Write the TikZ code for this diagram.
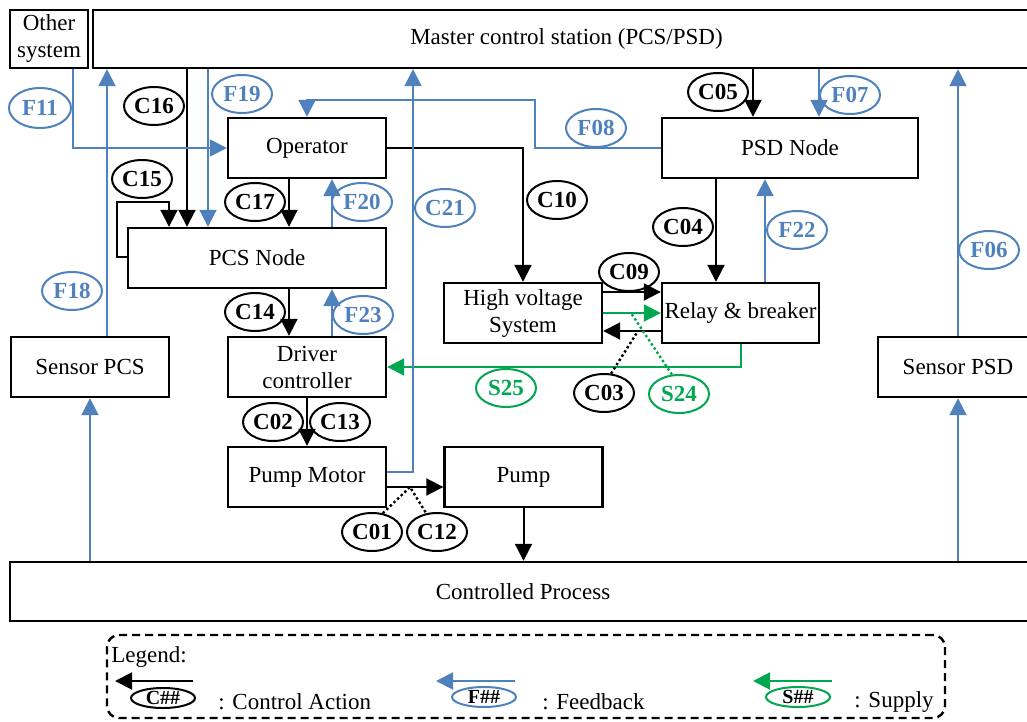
\documentclass[tikz,border=0pt]{standalone}
\usepackage{fontspec}
\setmainfont{Liberation Serif}
\usepackage{xcolor}
\usepackage{tikz}
\usetikzlibrary{arrows.meta,shapes.geometric}
\definecolor{fbblue}{RGB}{79,129,189}
\definecolor{spgreen}{RGB}{0,166,80}
\newcommand{\diafont}{\fontsize{11.5}{13.5}\selectfont}

\begin{document}
\begin{tikzpicture}[x=0.5pt, y=-0.5pt,
  box/.style={draw, line width=1.2pt, inner sep=1pt, font=\diafont, align=center,
              minimum width=79pt, minimum height=30pt},
  tag/.style={ellipse, draw, line width=1pt, inner sep=0pt, minimum width=30pt,
              minimum height=19pt, font=\diafont\bfseries},
  ftag/.style={tag, draw=fbblue, text=fbblue},
  stag/.style={tag, draw=spgreen, text=spgreen},
  ktag/.style={tag, minimum width=32pt, minimum height=10pt,
               font=\fontsize{10}{10}\selectfont\bfseries},
  ca/.style={draw, line width=1pt, -{Triangle[length=8.5pt, width=8.5pt]}},
  fa/.style={ca, color=fbblue},
  sa/.style={ca, color=spgreen},
  hint/.style={draw, line width=1.2pt, dash pattern=on 1.2pt off 1.3pt},
  txt/.style={font=\diafont, anchor=west, inner sep=0pt},
]
\clip (0,0) rectangle (1027,722);
% --- Top row ---
\node[box, minimum width=39pt, minimum height=29pt] (other) at (49,39) {Other\\system};
\node[box, minimum width=473.5pt, minimum height=29pt] (master) at (566.5,39) {Master control station (PCS/PSD)};
% --- Controllers ---
\node[box] (op) at (307,148) {Operator};
\node[box, minimum width=129pt] (pcs) at (257,258) {PCS Node};
\node[box, minimum width=128pt] (psd) at (790,148) {PSD Node};
\node[box] (drv) at (307,367) {Driver\\controller};
\node[box] (hv) at (523,313) {High voltage\\System};
\node[box, inner xsep=0pt, minimum width=78.5pt] (relay) at (740.5,313) {Relay \& breaker};
\node[box] (motor) at (307,477) {Pump Motor};
\node[box] (pump) at (523.5,477) {Pump};
% --- Sensors and process ---
\node[box] (spcs) at (90,367) {Sensor PCS};
\node[box, minimum width=80pt] (spsd) at (958,367) {Sensor PSD};
\node[box, minimum width=513pt, minimum height=29.5pt] (proc) at (523,591.5) {Controlled Process};
% --- Control actions ---
\draw[ca] (187,0 |- master.south) -- (187,0 |- pcs.north);
\draw[ca] (pcs.west |- 0,257) -| (117,202) -| (169,0 |- pcs.north);
\draw[ca] (289,0 |- op.south) -- (289,0 |- pcs.north);
\draw[ca] (289,0 |- pcs.south) -- (289,0 |- drv.north);
\draw[ca] (drv.south) -- (motor.north);
\draw[ca] (motor.east |- 0,487) -- (pump.west |- 0,487);
\draw[ca] (pump.south) -- (pump.south |- proc.north);
\draw[ca] (op.east) -| (hv.north);
\draw[ca] (753,0 |- master.south) -- (753,0 |- psd.north);
\draw[ca] (716,0 |- psd.south) -- (716,0 |- relay.north);
\draw[ca] (hv.east |- 0,292) -- (relay.west |- 0,292);
\draw[ca] (relay.west |- 0,331) -- (hv.east |- 0,331);
% --- Supply ---
\draw[sa] (hv.east |- 0,313) -- (relay.west |- 0,313);
\draw[sa] (741,0 |- relay.south) |- (drv.east);
% --- Feedback ---
\draw[fa] (73,0 |- other.south) |- (op.west);
\draw[fa] (107,0 |- spcs.north) -- (107,0 |- master.south);
\draw[fa] (208,0 |- master.south) -- (208,0 |- pcs.north);
\draw[fa] (332,0 |- pcs.north) -- (332,0 |- op.south);
\draw[fa] (332,0 |- drv.north) -- (332,0 |- pcs.south);
\draw[fa] (psd.west) -| (535,100) -| (op.north);
\draw[fa] (motor.east |- 0,472) -| (413,0 |- master.south);
\draw[fa] (819,0 |- master.south) -- (819,0 |- psd.north);
\draw[fa] (765,0 |- relay.north) -- (765,0 |- psd.south);
\draw[fa] (spsd.north) -- (spsd.north |- master.south);
\draw[fa] (spcs |- proc.north) -- (spcs.south);
\draw[fa] (spsd |- proc.north) -- (spsd.south);
% --- Labels ---
\node[tag] (c16) at (154,106) {C16};
\node[tag] (c15) at (142,179) {C15};
\node[tag] (c17) at (255,202) {C17};
\node[tag] (c14) at (255,312) {C14};
\node[tag] (c02) at (273,422) {C02};
\node[tag] (c13) at (340,422) {C13};
\node[tag] (c05) at (718,92) {C05};
\node[tag] (c10) at (557,200) {C10};
\node[tag] (c04) at (683,227) {C04};
\node[tag] (c09) at (629,272) {C09};
\node[tag] (c03) at (604,393) {C03};
\node[tag] (c01) at (372,532) {C01};
\node[tag] (c12) at (437,532) {C12};
\node[ftag, minimum width=31pt, minimum height=20pt] (f11) at (40,108) {F11};
\node[ftag] (f19) at (242,94) {F19};
\node[ftag] (f20) at (362,202) {F20};
\node[ftag] (f23) at (363,315) {F23};
\node[ftag] (f18) at (72,291) {F18};
\node[ftag] (f08) at (596,128) {F08};
\node[ftag] (c21) at (445,208) {C21};
\node[ftag] (f07) at (850,95) {F07};
\node[ftag] (f22) at (797,230) {F22};
\node[ftag] (f06) at (989,250) {F06};
\node[stag] (s25) at (506,388) {S25};
\node[stag] (s24) at (679,394) {S24};
% --- Dotted pointers ---
\coordinate (mp) at (410,487);
\coordinate (hb) at (638,331);
\coordinate (hs) at (631,313);
\draw[hint] (c01.60) -- (mp) -- (c12.120);
\draw[hint] (c03.70) -- (hb);
\draw[hint, color=spgreen] (s24.110) -- (hs);
% --- Legend ---
\node[draw, line width=1.2pt, dash pattern=on 4pt off 2.5pt, rounded corners=6pt,
      minimum width=419pt, minimum height=41.5pt] (legend) at (526,676.5) {};
\node[txt] (legtitle) at (111,657) {Legend:};
\node[ktag] (kc) at (163,698) {C\#\#};
\node[ktag, draw=fbblue] (kf) at (484,697) {F\#\#};
\node[ktag, draw=spgreen] (ks) at (798,697) {S\#\#};
\node[txt] (kct) at (218,702) {: Control Action};
\node[txt] (kft) at (542,702) {: Feedback};
\node[txt] (kst) at (854,702) {: Supply};
\coordinate (kc1) at (193,681);
\coordinate (kc2) at (115,681);
\coordinate (kf1) at (515,681);
\coordinate (kf2) at (436,681);
\coordinate (ks1) at (832,681);
\coordinate (ks2) at (753,681);
\draw[ca] (kc1) -- (kc2);
\draw[fa] (kf1) -- (kf2);
\draw[sa] (ks1) -- (ks2);
\end{tikzpicture}
\end{document}
